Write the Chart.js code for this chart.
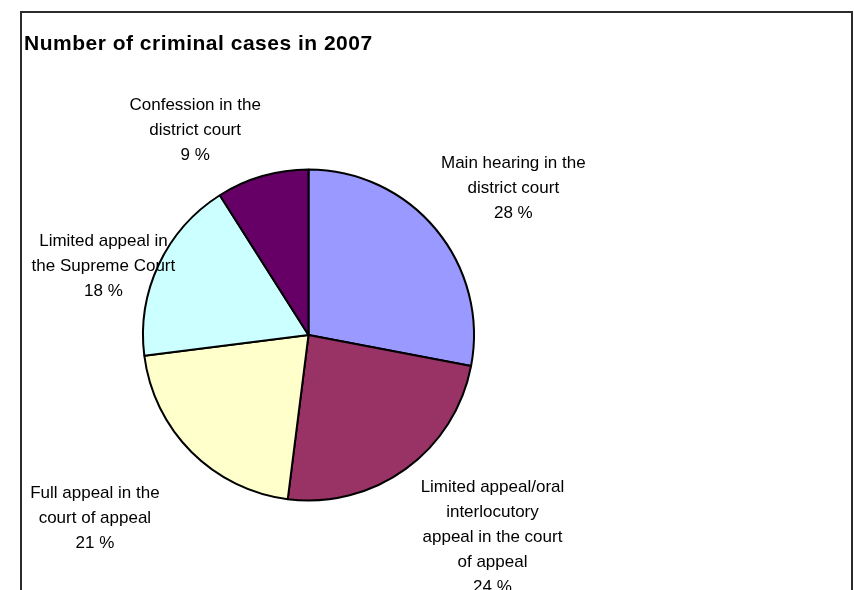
<!DOCTYPE html>
<html>
<head>
<meta charset="utf-8">
<script src="https://cdn.jsdelivr.net/npm/chart.js@4/dist/chart.umd.min.js"></script>
<style>
  html, body { margin: 0; padding: 0; background: #ffffff; }
  #wrap { position: relative; width: 854px; height: 590px; }
</style>
</head>
<body>
<div id="wrap"><canvas id="chart" width="854" height="590"></canvas></div>
<script>
// Criminal cases in 2007, share of cases by type of proceeding
const chartTitle = 'Number of criminal cases in 2007';
const categories = [
  ['Main hearing in the', 'district court'],
  ['Limited appeal/oral', 'interlocutory', 'appeal in the court', 'of appeal'],
  ['Full appeal in the', 'court of appeal'],
  ['Limited appeal in', 'the Supreme Court'],
  ['Confession in the', 'district court']
];
const shares = [28, 24, 21, 18, 9];
const sliceColors = ['#9999FF', '#993366', '#FFFFCC', '#CCFFFF', '#660066'];

// small hand adjustments of the outside labels (px)
const labelNudge = [[0, 1], [28, -5], [-31, 20], [35, 30], [-41, 17]];

const LABEL_FONT = '17px "Liberation Sans", Arial, sans-serif';
const LINE_H = 25;

const framePlugin = {
  id: 'frameAndTitle',
  beforeDraw(chart) {
    const ctx = chart.ctx;
    ctx.save();
    ctx.fillStyle = '#ffffff';
    ctx.fillRect(0, 0, chart.width, chart.height);
    ctx.strokeStyle = '#2b2b2b';
    ctx.lineWidth = 2;
    ctx.strokeRect(21, 12, 831, 600);
    ctx.fillStyle = '#000000';
    ctx.font = 'bold 21px "Liberation Sans", Arial, sans-serif';
    ctx.letterSpacing = '0.5px';
    ctx.textBaseline = 'alphabetic';
    ctx.textAlign = 'left';
    ctx.fillText(chartTitle, 24, 50);
    ctx.restore();
  }
};

const outsideLabels = {
  id: 'outsideLabels',
  afterDatasetsDraw(chart) {
    const ctx = chart.ctx;
    const meta = chart.getDatasetMeta(0);
    const values = chart.data.datasets[0].data;
    const total = values.reduce((a, b) => a + b, 0);
    ctx.save();
    ctx.font = LABEL_FONT;
    ctx.fillStyle = '#000000';
    ctx.textAlign = 'center';
    ctx.textBaseline = 'middle';
    meta.data.forEach((arc, i) => {
      const p = arc.getProps(['x', 'y', 'startAngle', 'endAngle', 'outerRadius'], true);
      const mid = (p.startAngle + p.endAngle) / 2;
      const dx = Math.cos(mid), dy = Math.sin(mid);
      const lines = chart.data.labels[i].concat([Math.round(values[i] / total * 100) + ' %']);
      const w = Math.max(...lines.map(t => ctx.measureText(t).width));
      const h = lines.length * LINE_H;
      const cx = p.x + dx * (p.outerRadius + 28) + dx * w / 2 + labelNudge[i][0];
      const cy = p.y + dy * (p.outerRadius + 28) + dy * h / 2 + labelNudge[i][1];
      lines.forEach((t, k) => {
        ctx.fillText(t, cx, cy - h / 2 + LINE_H / 2 + k * LINE_H);
      });
    });
    ctx.restore();
  }
};

new Chart(document.getElementById('chart'), {
  type: 'pie',
  data: {
    labels: categories,
    datasets: [{
      data: shares,
      backgroundColor: sliceColors,
      borderColor: '#000000',
      borderWidth: 2
    }]
  },
  options: {
    responsive: false,
    animation: false,
    layout: { padding: { left: 142, right: 379, top: 168, bottom: 88 } },
    plugins: {
      legend: { display: false },
      title: { display: false },
      tooltip: { enabled: false }
    }
  },
  plugins: [framePlugin, outsideLabels]
});
</script>
</body>
</html>
